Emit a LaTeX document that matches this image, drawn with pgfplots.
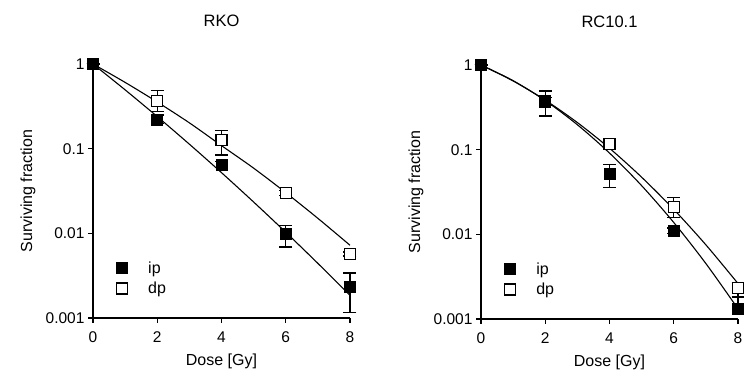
\documentclass[border=0pt]{standalone}
\usepackage{pgfplots}
\pgfplotsset{compat=1.18}
\usepackage{fontspec}
\setmainfont{Liberation Sans}
\pgfplotsset{
 every axis/.append style={
  scale only axis, width=257pt, height=254pt,
  ymin=0.001, ymax=1, xmin=0, xmax=8,
  axis x line*=bottom, axis y line*=left,
  axis line style={line width=1.4pt,-},
  xtick={0,2,4,6,8}, xticklabels={0,2,4,6,8},
  ytick={0.001,0.01,0.1,1}, yticklabels={0.001,0.01,0.1,1},
  yminorticks=false,
  tick align=outside, major tick length=5pt,
  tick style={line width=1.4pt, black},
  clip=false,
  xlabel={Dose [Gy]}, ylabel={Surviving fraction},
  legend cell align=left,
  title style={font=\fontsize{16.5}{18}\selectfont, at={(axis description cs:0.5,1)}, anchor=center, yshift=37pt},
  xticklabel style={yshift=-5pt},
 },
 every axis label/.append style={font=\fontsize{16}{18}\selectfont},
 every tick label/.append style={font=\fontsize{15.5}{18}\selectfont},
 every axis x label/.append style={at={(0.5,0)}, anchor=base, yshift=-47pt},
 every axis y label/.append style={at={(-0.253,0.5)}, anchor=center},
 every axis legend/.append style={draw=none, fill=none, at={(0.078,0.238)}, anchor=north west, font=\fontsize{16}{18}\selectfont, row sep=3pt, column sep=19pt},
 fitline/.style={black, line width=1.1pt, smooth, forget plot},
 ebars/.style={line width=1.3pt, error bars/y dir=both, error bars/y explicit,
   error bars/error bar style={line width=1.3pt, black},
   error bars/error mark options={rotate=90, mark size=6.5pt, line width=1.3pt, black}},
 ipm/.style={only marks, mark=square*, mark size=5.5pt, mark options={fill=black, draw=black, line width=0.8pt}, ebars},
 dpm/.style={only marks, mark=square*, mark size=5.5pt, mark options={fill=white, draw=black, line width=1.3pt}, ebars},
}
\begin{document}
\begin{tikzpicture}[x=1pt,y=1pt]
\path[use as bounding box] (0,0) rectangle (744,372);
\begin{semilogyaxis}[at={(93pt,54pt)}, anchor=south west, title={RKO}]
\addplot[fitline] coordinates {(0,1) (1,0.495) (2,0.2394) (3,0.1130) (4,0.05209) (5,0.02344) (6,0.01030) (7,0.004418) (8,0.001850)};
\addplot[fitline] coordinates {(0,1) (1,0.6064) (2,0.3557) (3,0.2019) (4,0.1087) (5,0.05888) (6,0.03026) (7,0.01504) (8,0.007230)};
\addplot[dpm, forget plot] coordinates {(0,1) +- (0,0) (2,0.366) += (0,0.124) -= (0,0.09) (4,0.126) += (0,0.037) -= (0,0.042) (6,0.030) +- (0,0.002) (8,0.0057) +- (0,0.0003)};
\addplot[ipm] coordinates {(0,1) +- (0,0) (2,0.22) += (0,0.03) -= (0,0.02) (4,0.065) +- (0,0.005) (6,0.0098) += (0,0.0025) -= (0,0.0029) (8,0.0023) += (0,0.0011) -= (0,0.00113)};
\addlegendentry{ip}
\addlegendimage{dpm}
\addlegendentry{dp}
\end{semilogyaxis}
\begin{semilogyaxis}[at={(481pt,53pt)}, anchor=south west, title={RC10.1}]
\addplot[fitline] coordinates {(0,1) (1,0.653) (2,0.380) (3,0.197) (4,0.0912) (5,0.0376) (6,0.0138) (7,0.00452) (8,0.00132)};
\addplot[fitline] coordinates {(0,1) (1,0.648) (2,0.3847) (3,0.2090) (4,0.1040) (5,0.0473) (6,0.01971) (7,0.007518) (8,0.002625)};
\addplot[dpm, forget plot] coordinates {(0,1) +- (0,0) (2,0.37) +- (0,0.04) (4,0.116) +- (0,0.005) (6,0.0212) += (0,0.0059) -= (0,0.0053) (8,0.00231) += (0,0.0004) -= (0,0.00047)};
\addplot[ipm] coordinates {(0,1) +- (0,0) (2,0.363) += (0,0.13) -= (0,0.113) (4,0.0516) += (0,0.0154) -= (0,0.0156) (6,0.0111) +- (0,0.0008) (8,0.00132) += (0,0.0005) -= (0,0.0001)};
\addlegendentry{ip}
\addlegendimage{dpm}
\addlegendentry{dp}
\end{semilogyaxis}
\end{tikzpicture}
\end{document}
